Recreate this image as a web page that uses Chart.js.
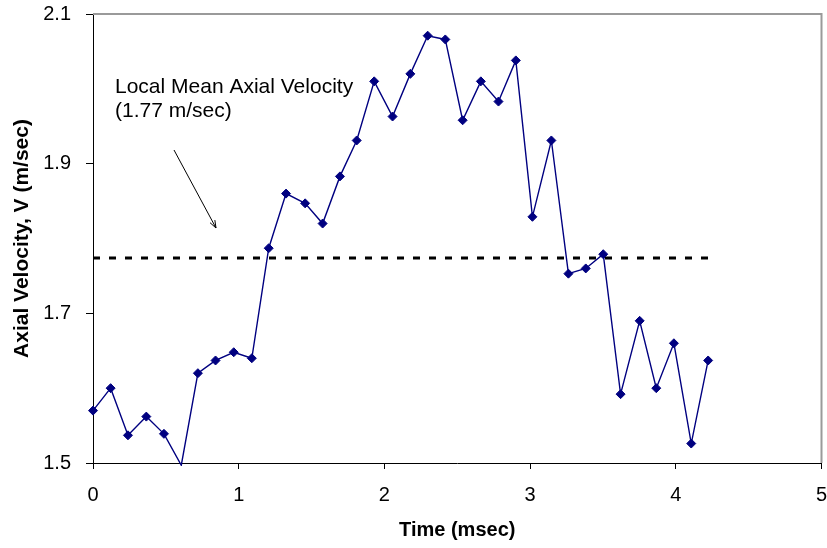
<!DOCTYPE html>
<html>
<head>
<meta charset="utf-8">
<script src="https://cdn.jsdelivr.net/npm/chart.js@4/dist/chart.umd.min.js"></script>
<style>
    body { margin: 0; background: #fff; }
    canvas { display: block; }
</style>
</head>
<body>
<canvas id="velocityChart" width="827" height="548"></canvas>
<script>
// Data
const timeMs = [0, 0.121, 0.24, 0.366, 0.487, 0.606, 0.72, 0.841, 0.966, 1.09, 1.206, 1.325, 1.456, 1.576, 1.695, 1.81, 1.93, 2.056, 2.178, 2.297, 2.418, 2.537, 2.662, 2.783, 2.902, 3.016, 3.146, 3.263, 3.382, 3.502, 3.621, 3.752, 3.866, 3.987, 4.106, 4.222];
const velocity = [1.570, 1.600, 1.537, 1.562, 1.539, 1.497, 1.620, 1.637, 1.648, 1.640, 1.787, 1.860, 1.847, 1.820, 1.883, 1.931, 2.010, 1.963, 2.020, 2.071, 2.066, 1.958, 2.010, 1.983, 2.038, 1.829, 1.931, 1.753, 1.760, 1.779, 1.592, 1.690, 1.600, 1.660, 1.526, 1.637];
const meanVelocity = 1.774;
const annotationLines = ['Local Mean Axial Velocity', '(1.77 m/sec)'];
const xTicks = [0, 1, 2, 3, 4, 5];
const yTicks = [1.5, 1.7, 1.9, 2.1];

const FONT = '"Liberation Sans", Arial, sans-serif';
const navy = '#000080';

const points = timeMs.map((t, i) => ({ x: t, y: velocity[i] }));
const meanLine = [
    { x: timeMs[0], y: meanVelocity },
    { x: timeMs[timeMs.length - 1], y: meanVelocity },
];

// frame, note text and arrow
const extras = {
    id: 'extras',
    afterDraw(chart) {
        const { ctx, chartArea } = chart;
        ctx.save();
        ctx.strokeStyle = '#9a9a9a';
        ctx.lineWidth = 2;
        ctx.beginPath();
        ctx.moveTo(chartArea.left, chartArea.top);
        ctx.lineTo(chartArea.right, chartArea.top);
        ctx.lineTo(chartArea.right, chartArea.bottom);
        ctx.stroke();

        ctx.fillStyle = '#000';
        ctx.font = '21px ' + FONT;
        ctx.textBaseline = 'alphabetic';
        ctx.fillText(annotationLines[0], 115, 93);
        ctx.fillText(annotationLines[1], 115, 117);

        // arrow
        const x1 = 174, y1 = 150, x2 = 216, y2 = 228;
        ctx.strokeStyle = '#000';
        ctx.lineWidth = 1;
        ctx.beginPath();
        ctx.moveTo(x1, y1);
        ctx.lineTo(x2, y2);
        const ang = Math.atan2(y2 - y1, x2 - x1);
        const len = 8;
        ctx.moveTo(x2, y2);
        ctx.lineTo(x2 - len * Math.cos(ang - 0.35), y2 - len * Math.sin(ang - 0.35));
        ctx.moveTo(x2, y2);
        ctx.lineTo(x2 - len * Math.cos(ang + 0.35), y2 - len * Math.sin(ang + 0.35));
        ctx.stroke();
        ctx.restore();
    },
};

new Chart(document.getElementById('velocityChart'), {
    type: 'scatter',
    data: {
        datasets: [
            {
                label: 'Axial Velocity',
                data: points,
                showLine: true,
                borderColor: navy,
                borderWidth: 1.4,
                backgroundColor: navy,
                pointBackgroundColor: navy,
                pointBorderColor: navy,
                pointStyle: 'rectRot',
                pointRadius: (c) => (c.raw && c.raw.y < 1.5 ? 0 : 4.5),
                pointBorderWidth: 1,
                clip: { left: 5, top: 5, right: 5, bottom: 3 },
            },
            {
                label: 'Local Mean',
                data: meanLine,
                showLine: true,
                borderColor: '#000',
                borderWidth: 3,
                borderDash: [7, 9],
                pointRadius: 0,
            },
        ],
    },
    options: {
        responsive: false,
        animation: false,
        devicePixelRatio: 1,
        layout: { padding: { top: 14, right: 4, left: 0, bottom: 0 } },
        plugins: {
            legend: { display: false },
            tooltip: { enabled: false },
        },
        scales: {
            x: {
                type: 'linear',
                min: 0,
                max: 5,
                afterBuildTicks: (s) => { s.ticks = xTicks.map((v) => ({ value: v })); },
                afterFit: (s) => { s.height = 85; s.paddingLeft = 0; s.paddingRight = 0; },
                ticks: {
                    color: '#000',
                    font: { family: FONT, size: 20 },
                    padding: 14,
                    maxRotation: 0,
                },
                grid: { drawOnChartArea: false, drawTicks: true, tickLength: 6, tickColor: '#000' },
                border: { color: '#000', width: 1 },
                title: {
                    display: true,
                    text: 'Time (msec)',
                    color: '#000',
                    font: { family: FONT, size: 20, weight: 'bold' },
                    padding: { top: 0, bottom: 6 },
                },
            },
            y: {
                min: 1.5,
                max: 2.1,
                afterBuildTicks: (s) => { s.ticks = yTicks.map((v) => ({ value: v })); },
                afterFit: (s) => { s.width = 93; s.paddingTop = 0; s.paddingBottom = 0; },
                ticks: {
                    color: '#000',
                    font: { family: FONT, size: 20 },
                    padding: 15,
                    callback: (v) => Number(v).toFixed(1),
                },
                grid: { drawOnChartArea: false, drawTicks: true, tickLength: 7, tickColor: '#000' },
                border: { color: '#000', width: 1 },
                title: {
                    display: true,
                    text: 'Axial Velocity, V (m/sec)',
                    color: '#000',
                    font: { family: FONT, size: 21, weight: 'bold' },
                    padding: { top: 10, bottom: 0 },
                },
            },
        },
    },
    plugins: [extras],
});
</script>
</body>
</html>
